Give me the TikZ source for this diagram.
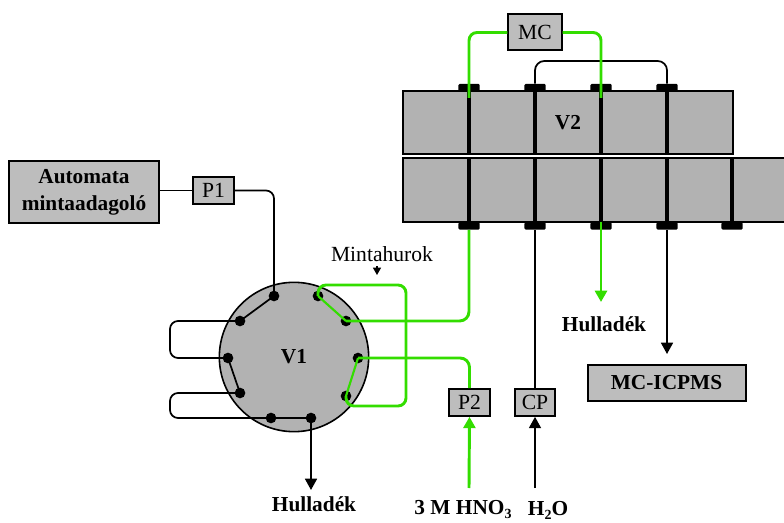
\documentclass[tikz,border=0pt]{standalone}
\usepackage{fontspec}
\setmainfont{Liberation Serif}
\usetikzlibrary{arrows.meta}
\tikzset{
  boxnode/.style={draw=black,fill=boxgray,line width=1.5pt,inner sep=0pt},
  dotnode/.style={circle,fill=black,inner sep=0pt,minimum size=8pt},
  tabnode/.style={fill=black,rounded corners=1pt,inner sep=0pt,minimum width=16pt,minimum height=5.5pt},
  blueprint/.style={line width=1.3pt,black},
  greenline/.style={line width=2.2pt,acidgreen},
  greenchord/.style={line width=1.6pt,acidgreen},
  divider/.style={line width=2.4pt,black},
  arrowtip/.style={-{Triangle[length=8.5pt,width=9pt]}},
  plain/.style={font=\fontsize{16.2}{18}\selectfont},
  boldtext/.style={font=\fontsize{16}{18}\selectfont\bfseries}
}
\newcommand{\lowsub}[1]{\raisebox{-3pt}{\fontsize{10.5}{11}\selectfont #1}}
\definecolor{boxgray}{HTML}{BDBDBD}
\definecolor{valvegray}{HTML}{B2B2B2}
\definecolor{acidgreen}{HTML}{33DD00}
\begin{document}
\begin{tikzpicture}[x=0.75pt,y=-0.75pt]
      \useasboundingbox (0,0) rectangle (784,523) ;
      \node[boxnode,minimum width=113pt,minimum height=46pt,align=center,boldtext] (auto) at (84,192) {Automata\\[2pt]mintaadagoló} ;
      \node[boxnode,minimum width=30.5pt,minimum height=20pt,plain] (P1) at (213.5,190.5) {P1} ;
      \node[boxnode,minimum width=30.5pt,minimum height=20pt,plain] (P2) at (469.5,402.5) {P2} ;
      \node[boxnode,minimum width=30.5pt,minimum height=20pt,plain] (CP) at (535,402.5) {CP} ;
      \node[boxnode,minimum width=40pt,minimum height=27pt,plain] (MC) at (535,32.5) {MC} ;
      \node[boxnode,minimum width=118.5pt,minimum height=27pt,boldtext] (icp) at (666.5,383) {MC-ICPMS} ;
      \node[circle,draw=black,fill=valvegray,line width=1.2pt,inner sep=0pt,minimum size=112pt] (V1) at (294,357) {} ;
      \node[boldtext] (V1label) at (294,357) {V1} ;
      \node[draw=black,fill=valvegray,line width=1.3pt,inner sep=0pt,minimum width=247.5pt,minimum height=47pt] (V2up) at (568,122.5) {} ;
      \node[draw=black,fill=valvegray,line width=1.3pt,inner sep=0pt,minimum width=295pt,minimum height=48pt] (V2low) at (600,190) {} ;
      \node[tabnode] (ut1) at (469,87.5) {} ;
      \node[tabnode] (ut2) at (535,87.5) {} ;
      \node[tabnode] (ut3) at (601,87.5) {} ;
      \node[tabnode] (ut4) at (667,87.5) {} ;
      \node[tabnode] (lb1) at (469,226) {} ;
      \node[tabnode] (lb2) at (535,226) {} ;
      \node[tabnode] (lb3) at (601,226) {} ;
      \node[tabnode] (lb4) at (667,226) {} ;
      \node[tabnode] (lb5) at (732,226) {} ;
      \draw[divider] (ut1.south) -- (ut1.south |- V2up.south) ;
      \draw[divider] (ut2.south) -- (ut2.south |- V2up.south) ;
      \draw[divider] (ut3.south) -- (ut3.south |- V2up.south) ;
      \draw[divider] (ut4.south) -- (ut4.south |- V2up.south) ;
      \draw[divider] (lb1.north) -- (lb1.north |- V2low.north) ;
      \draw[divider] (lb2.north) -- (lb2.north |- V2low.north) ;
      \draw[divider] (lb3.north) -- (lb3.north |- V2low.north) ;
      \draw[divider] (lb4.north) -- (lb4.north |- V2low.north) ;
      \draw[divider] (lb5.north) -- (lb5.north |- V2low.north) ;
      \node[boldtext] (V2label) at (568,123) {V2} ;
      \node[dotnode] (d1) at (274,296) {} ;
      \node[dotnode] (d2) at (240,321) {} ;
      \node[dotnode] (d3) at (228,358) {} ;
      \node[dotnode] (d4) at (240,393) {} ;
      \node[dotnode] (d5) at (271,418) {} ;
      \node[dotnode] (d6) at (311,418) {} ;
      \node[dotnode] (d7) at (346,396) {} ;
      \node[dotnode] (d8) at (358,358) {} ;
      \node[dotnode] (d9) at (346,321) {} ;
      \node[dotnode] (d10) at (318,296) {} ;
      \coordinate (loopA) at (170,321) ;
      \coordinate (loopB) at (170,358) ;
      \coordinate (loopC) at (170,393) ;
      \coordinate (loopD) at (170,418) ;
      \coordinate (sampleA) at (318,285) ;
      \coordinate (sampleB) at (406,285) ;
      \coordinate (sampleC) at (406,406) ;
      \coordinate (sampleD) at (346,406) ;
      \coordinate (mcA) at (469,98) ;
      \coordinate (mcB) at (601,98) ;
      \coordinate (wasteA) at (311,490) ;
      \coordinate (wasteB) at (601,302) ;
      \coordinate (icpEnd) at (667,354) ;
      \coordinate (acidIn) at (469,488) ;
      \coordinate (waterIn) at (535,488) ;
      \coordinate (loopTop) at (601,61) ;
      \coordinate (sampleEnd) at (377,275) ;
      \draw[blueprint] (auto.east |- P1.west) -- (P1.west) ;
      \draw[blueprint,rounded corners=6pt] (P1.east) -| (d1.center) ;
      \draw[blueprint] (d1.center) -- (d2.center) ;
      \draw[blueprint] (d3.center) -- (d4.center) ;
      \draw[blueprint] (d5.center) -- (d6.center) ;
      \draw[blueprint,rounded corners=6pt] (d2.center) -- (loopA) -- (loopB) -- (d3.center) ;
      \draw[blueprint,rounded corners=6pt] (d4.center) -- (loopC) -- (loopD) -- (d5.center) ;
      \draw[blueprint,arrowtip] (d6.center) -- (wasteA) ;
      \draw[blueprint,rounded corners=7pt] (ut2.north) |- (loopTop) -| (ut4.north) ;
      \draw[blueprint] (lb2.south) -- (CP.north) ;
      \draw[blueprint,arrowtip] (lb4.south) -- (icpEnd) ;
      \draw[blueprint,arrowtip] (waterIn) -- (CP.south) ;
      \draw[greenline,rounded corners=6pt] (MC.west) -| (mcA) ;
      \draw[greenline,rounded corners=6pt] (MC.east) -| (mcB) ;
      \draw[greenline,rounded corners=6pt] (d10.center) -- (sampleA) -- (sampleB) -- (sampleC) -- (sampleD) -- (d7.center) ;
      \draw[greenchord] (d10.center) -- (d9.center) ;
      \draw[greenchord] (d8.center) -- (d7.center) ;
      \draw[greenline,rounded corners=7pt] (lb1.south) |- (d9.center) ;
      \draw[greenline,rounded corners=7pt] (d8.center) -| (P2.north) ;
      \draw[greenline,arrowtip] (lb3.north) -- (wasteB) ;
      \draw[greenline,arrowtip] (acidIn) -- (P2.south) ;
      \node[plain] (loopname) at (382,254) {Mintahurok} ;
      \draw[line width=0.9pt,-{Triangle[length=5.5pt,width=6pt]}] (loopname.south -| sampleEnd) -- (sampleEnd) ;
      \node[boldtext] (waste1) at (314,504) {Hulladék} ;
      \node[boldtext] (waste2) at (604,324) {Hulladék} ;
      \node[boldtext] (acid) at (463,510) {3 M HNO\lowsub{3}} ;
      \node[boldtext] (water) at (548,510) {H\lowsub{2}O} ;
    \end{tikzpicture}
\end{document}
